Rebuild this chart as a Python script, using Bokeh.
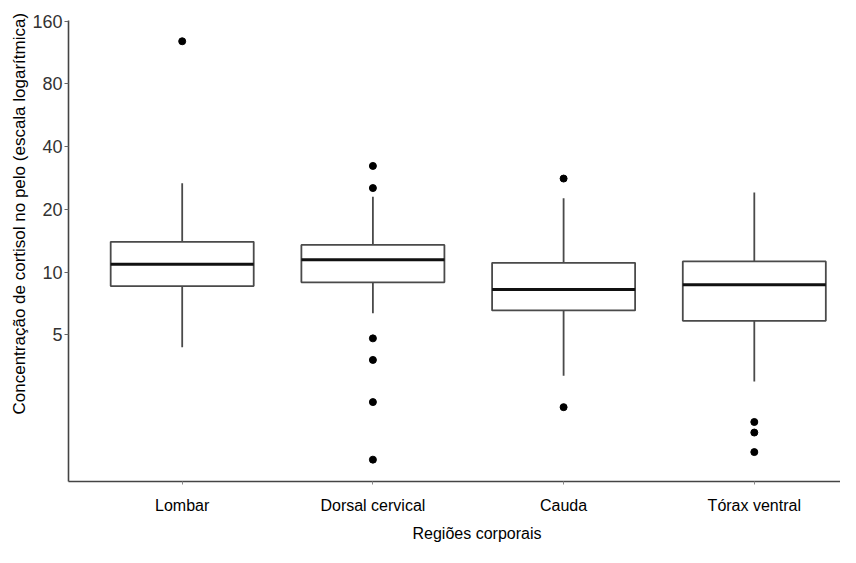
from bokeh.plotting import figure
from bokeh.models import FixedTicker, NumeralTickFormatter, Range1d, ColumnDataSource, Title
from bokeh.embed import file_html
from bokeh.resources import INLINE

# ---- data ----
categories = ["Lombar", "Dorsal cervical", "Cauda", "Tórax ventral"]
q1 = [8.57, 8.93, 6.55, 5.84]
median = [10.9, 11.46, 8.26, 8.69]
q3 = [13.97, 13.5, 11.08, 11.25]
whisker_low = [4.36, 6.34, 3.18, 2.99]
whisker_high = [26.7, 23.0, 22.6, 24.1]
outliers = {
    "Lombar": [128.0],
    "Dorsal cervical": [32.3, 25.3, 4.81, 3.79, 2.38, 1.26],
    "Cauda": [28.1, 2.25],
    "Tórax ventral": [1.91, 1.70, 1.37],
}
y_ticks = [5, 10, 20, 40, 80, 160]
x_title = "Regiões corporais"
y_title = "Concentração de cortisol no pelo (escala logarítmica)"

FONT = "Liberation Sans"
box_w = 0.75
xs = list(range(1, len(categories) + 1))

p = figure(width=840, height=547, output_backend="svg", toolbar_location=None,
           y_axis_type="log",
           x_range=Range1d(0.4038, 4.452), y_range=Range1d(0.99, 161),
           min_border_left=68, min_border_right=0, min_border_top=20,
           min_border_bottom=65)
p.outline_line_color = None
p.xgrid.grid_line_color = None
p.ygrid.grid_line_color = None
p.background_fill_color = "white"
p.border_fill_color = "white"

src = ColumnDataSource(dict(
    x=xs,
    left=[x - box_w / 2 for x in xs],
    right=[x + box_w / 2 for x in xs],
    q1=q1, q3=q3, med=median, lo=whisker_low, hi=whisker_high,
))

LINE = "#4a4a4a"
# whiskers
p.segment(x0="x", y0="q3", x1="x", y1="hi", source=src, line_color=LINE, line_width=1.8)
p.segment(x0="x", y0="q1", x1="x", y1="lo", source=src, line_color=LINE, line_width=1.8)
# boxes
p.quad(left="left", right="right", bottom="q1", top="q3", source=src,
       fill_color="white", line_color=LINE, line_width=1.8)
# medians
p.segment(x0="left", y0="med", x1="right", y1="med", source=src,
          line_color="#111111", line_width=3)

# outliers
ox, oy = [], []
for i, c in enumerate(categories):
    for v in outliers[c]:
        ox.append(xs[i])
        oy.append(v)
p.scatter(ox, oy, size=7, fill_color="black", line_color="black")

# y axis
ya = p.yaxis[0]
ya.ticker = FixedTicker(ticks=y_ticks, minor_ticks=[])
ya.formatter = NumeralTickFormatter(format="0")
ya.major_label_text_font = FONT
ya.major_label_text_font_size = "18px"
ya.major_label_text_color = "#333333"
ya.major_label_standoff = 2
ya.major_tick_out = 4
ya.major_tick_in = 0
ya.minor_tick_line_color = None
ya.axis_line_color = "#444444"
ya.axis_line_width = 1.6
ya.major_tick_line_color = "#666666"

# x axis
xa = p.xaxis[0]
xa.ticker = FixedTicker(ticks=xs)
xa.major_label_overrides = {x: c for x, c in zip(xs, categories)}
xa.major_label_text_font = FONT
xa.major_label_text_font_size = "16px"
xa.major_label_text_color = "black"
xa.major_label_standoff = 12
xa.major_tick_out = 3
xa.major_tick_in = 0
xa.minor_tick_line_color = None
xa.axis_line_color = "#444444"
xa.axis_line_width = 1.6
xa.major_tick_line_color = "#888888"

# axis titles (as titles so they can be offset like the reference)
tx = Title(text=x_title, align="left", offset=344, standoff=12,
           text_font=FONT, text_font_size="16px", text_font_style="normal",
           text_color="black")
p.add_layout(tx, "below")
ty = Title(text=y_title, align="left", offset=67, standoff=2,
           text_font=FONT, text_font_size="17px", text_font_style="normal",
           text_color="black")
p.add_layout(ty, "left")

open("out.html", "w").write(file_html(p, INLINE))
